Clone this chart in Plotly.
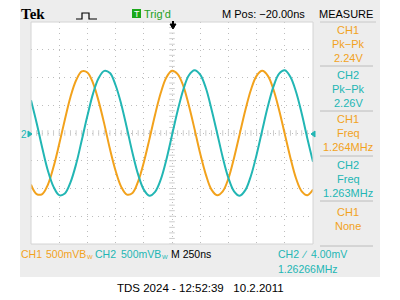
import plotly.graph_objects as go

# ---- data (time in ns, volts) ----
t_ns = [-1250, -1200, -1150, -1100, -1050, -1000, -950, -900, -850, -800,
        -750, -700, -650, -600, -550, -500, -450, -400, -350, -300,
        -250, -200, -150, -100, -50, 0, 50, 100, 150, 200,
        250, 300, 350, 400, 450, 500, 550, 600, 650, 700,
        750, 800, 850, 900, 950, 1000, 1050, 1100, 1150, 1200, 1250]
ch1_v = [-0.93, -1.10, -1.10, -0.93, -0.61, -0.20, 0.24, 0.65, 0.95, 1.11,
         1.09, 0.90, 0.57, 0.16, -0.29, -0.68, -0.97, -1.11, -1.08, -0.87,
         -0.53, -0.11, 0.33, 0.72, 1.00, 1.12, 1.06, 0.85, 0.49, 0.07,
         -0.37, -0.75, -1.02, -1.12, -1.05, -0.82, -0.45, -0.02, 0.41, 0.78,
         1.03, 1.12, 1.03, 0.78, 0.41, -0.02, -0.45, -0.82, -1.05, -1.12, -1.02]
ch2_v = [0.59, 0.18, -0.27, -0.68, -0.97, -1.12, -1.09, -0.89, -0.56, -0.13,
         0.31, 0.71, 0.99, 1.12, 1.08, 0.86, 0.52, 0.09, -0.36, -0.75,
         -1.02, -1.13, -1.06, -0.84, -0.48, -0.04, 0.40, 0.78, 1.04, 1.13,
         1.05, 0.81, 0.43, 0.00, -0.44, -0.81, -1.05, -1.13, -1.03, -0.77,
         -0.39, 0.05, 0.48, 0.84, 1.07, 1.13, 1.01, 0.74, 0.35, -0.10, -0.52]

measure_labels = [("CH1", "Pk\u2212Pk", "2.24V"), ("CH2", "Pk\u2212Pk", "2.26V"),
                  ("CH1", "Freq", "1.264MHz"), ("CH2", "Freq", "1.263MHz"),
                  ("CH1", "None")]
footer = "TDS 2024 - 12:52:39   10.2.2011"

ORANGE = "#f2a21c"
CYAN = "#22b6b4"
GRID = "#bdbdbd"
TICK = "#cdcdcd"
FONT = "Liberation Sans, Arial, sans-serif"

W, H = 400, 300
def px(x): return x / W
def py(y): return 1 - y / H

L, R, T, B = 31, 313, 22, 244

fig = go.Figure()

# graticule center tick marks
tx = [-1250 + 50 * i for i in range(51)]
ty = [-2 + 0.1 * i for i in range(41)]
fig.add_trace(go.Scatter(x=tx, y=[0] * len(tx), mode="markers",
                         marker=dict(symbol="line-ns", size=4, line=dict(color=TICK, width=1)),
                         hoverinfo="skip", showlegend=False))
fig.add_trace(go.Scatter(x=[0] * len(ty), y=ty, mode="markers",
                         marker=dict(symbol="line-ew", size=4, line=dict(color=TICK, width=1)),
                         hoverinfo="skip", showlegend=False))

fig.add_trace(go.Scatter(x=t_ns, y=ch1_v, mode="lines", line=dict(color=ORANGE, width=2, shape="spline"),
                         hoverinfo="skip", showlegend=False))
fig.add_trace(go.Scatter(x=t_ns, y=ch2_v, mode="lines", line=dict(color=CYAN, width=2, shape="spline"),
                         hoverinfo="skip", showlegend=False))

shapes = []
shapes.append(dict(type="rect", xref="paper", yref="paper", x0=px(20), x1=px(380), y0=py(277), y1=py(0),
                   fillcolor="#ededed", line=dict(width=0), layer="below"))
shapes.append(dict(type="rect", xref="paper", yref="paper", x0=px(L), x1=px(R), y0=py(B), y1=py(T),
                   fillcolor="white", line=dict(width=0), layer="below"))
shapes.append(dict(type="rect", xref="paper", yref="paper", x0=px(L), x1=px(R), y0=py(B), y1=py(T),
                   line=dict(color="#d4d4d4", width=1), layer="above"))
shapes.append(dict(type="line", xref="paper", yref="paper", x0=px(320), x1=px(376), y0=py(22), y1=py(22),
                   line=dict(color="#c8c8c8", width=1)))
for sy in [66, 111, 156, 201, 246]:
    shapes.append(dict(type="line", xref="paper", yref="paper", x0=px(320), x1=px(373), y0=py(sy), y1=py(sy),
                       line=dict(color="#bcbcbc", width=1)))
pts = [(76, 19), (82, 19), (82, 13), (89, 13), (89, 19), (97, 19)]
path = "M " + " L ".join(f"{px(a)},{py(b)}" for a, b in pts)
shapes.append(dict(type="path", xref="paper", yref="paper", path=path, line=dict(color="black", width=1.2)))
shapes.append(dict(type="rect", xref="paper", yref="paper", x0=px(132), x1=px(141), y0=py(18), y1=py(9),
                   fillcolor="#1aa81a", line=dict(width=0)))
shapes.append(dict(type="path", xref="paper", yref="paper",
                   path=f"M {px(170)},{py(24)} L {px(176)},{py(24)} L {px(173)},{py(29)} Z",
                   fillcolor="black", line=dict(color="black", width=1)))
shapes.append(dict(type="line", xref="paper", yref="paper", x0=px(173), x1=px(173), y0=py(21), y1=py(25),
                   line=dict(color="black", width=2)))
shapes.append(dict(type="path", xref="paper", yref="paper",
                   path=f"M {px(28)},{py(131)} L {px(32)},{py(134)} L {px(28)},{py(137)} Z",
                   fillcolor=CYAN, line=dict(color=CYAN, width=1)))
shapes.append(dict(type="path", xref="paper", yref="paper",
                   path=f"M {px(315)},{py(131)} L {px(311)},{py(134)} L {px(315)},{py(137)} Z",
                   fillcolor=CYAN, line=dict(color=CYAN, width=1)))

ann = []
def text(x, y, s, color="black", size=11, anchor="left", family=FONT, bold=False):
    if bold:
        s = f"<b>{s}</b>"
    ann.append(dict(x=px(x), y=py(y), xref="paper", yref="paper", text=s, showarrow=False,
                    xanchor=anchor, yanchor="middle", font=dict(color=color, size=size, family=family),
                    borderpad=0))

text(20, 14, "Tek", size=15, family="Liberation Serif, Times New Roman, serif", bold=True)
text(136.5, 13.5, "T", color="white", size=9, anchor="center")
text(143, 13.5, "Trig'd", color="#22a022", size=11)
text(221, 13.5, "M Pos: \u221220.00ns", size=11)
text(346, 13.5, "MEASURE", size=11, anchor="center")

rows_y = [(30, 44, 58), (75, 89, 103), (119, 133, 147), (165, 179, 193), (212, 226)]
for labels, ys in zip(measure_labels, rows_y):
    col = ORANGE if labels[0] == "CH1" else CYAN
    for s, y in zip(labels, ys):
        text(348, y, s, color=col, size=11, anchor="center")

text(24, 134, "2", color=CYAN, size=10, anchor="center")

text(20, 254, "CH1", color=ORANGE, size=10.5)
text(45, 254, "500mVB", color=ORANGE, size=10.5)
text(86, 257, "W", color=ORANGE, size=6)
text(94, 254, "CH2", color=CYAN, size=10.5)
text(120, 254, "500mVB", color=CYAN, size=10.5)
text(161, 257, "W", color=CYAN, size=6)
text(170, 254, "M 250ns", color="black", size=10.5)
text(277, 254, "CH2", color=CYAN, size=10.5)
text(300, 254, "\u2215", color=CYAN, size=10.5)
text(310, 254, "4.00mV", color=CYAN, size=10.5)
text(277, 269, "1.26266MHz", color=CYAN, size=10.5)

text(200, 288, footer, color="black", size=11.5, anchor="center")

fig.update_layout(
    width=W, height=H, margin=dict(l=0, r=0, t=0, b=0),
    paper_bgcolor="white", plot_bgcolor="white",
    shapes=shapes, annotations=ann, showlegend=False,
    xaxis=dict(domain=[px(L), px(R)], range=[-1250, 1250], dtick=250, tick0=0,
               showgrid=True, gridcolor=GRID, gridwidth=1, griddash="1px,4.64px",
               showticklabels=False, zeroline=False, showline=False, ticks="", fixedrange=True),
    yaxis=dict(domain=[py(B), py(T)], range=[-2, 2], dtick=0.5, tick0=0,
               showgrid=True, gridcolor=GRID, gridwidth=1, griddash="1px,4.55px",
               showticklabels=False, zeroline=False, showline=False, ticks="", fixedrange=True),
)

fig.write_html("out.html")
